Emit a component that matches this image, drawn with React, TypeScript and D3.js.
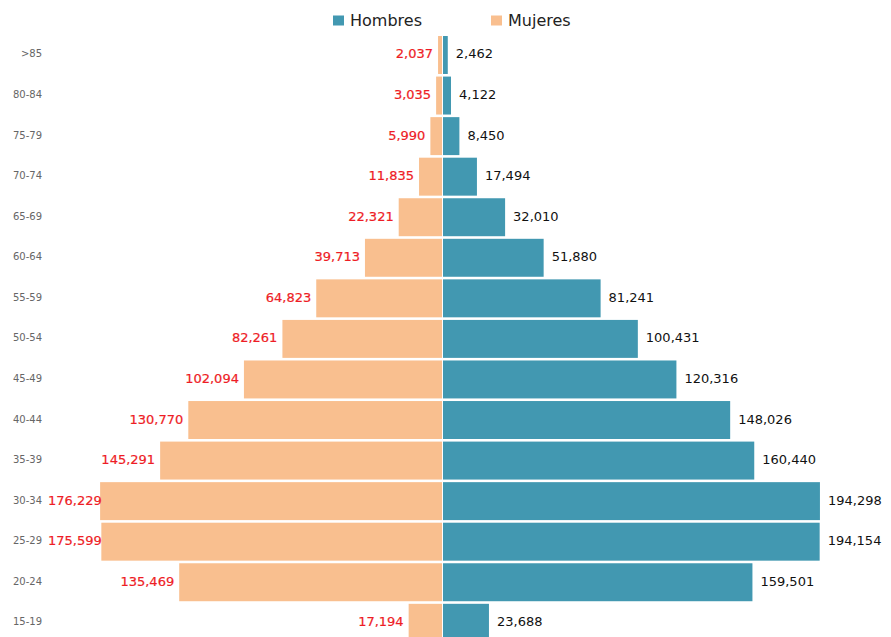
import * as d3 from "d3";

const ages = [">85", "80-84", "75-79", "70-74", "65-69", "60-64", "55-59", "50-54", "45-49", "40-44", "35-39", "30-34", "25-29", "20-24", "15-19"];
const hombres = [2462, 4122, 8450, 17494, 32010, 51880, 81241, 100431, 120316, 148026, 160440, 194298, 194154, 159501, 23688];
const mujeres = [2037, 3035, 5990, 11835, 22321, 39713, 64823, 82261, 102094, 130770, 145291, 176229, 175599, 135469, 17194];
const legendItems = ["Hombres", "Mujeres"];

const WIDTH = 891;
const HEIGHT = 637;
const MEN_COLOR = "#4298b1";
const WOMEN_COLOR = "#f9bf8f";
const FONT = "'DejaVu Sans', Verdana, sans-serif";
const VALUE_SIZE = 13;
const LABEL_MIN_X = 48;

// rough width of a formatted number in DejaVu Sans
const textWidth = (s: string) =>
  s.split("").reduce((w, c) => w + (c === "," ? 0.318 : 0.636) * VALUE_SIZE, 0);

export default function App() {
  const y = d3
    .scaleBand<string>()
    .domain(ages)
    .range([34.8, 643])
    .paddingInner(0.064)
    .paddingOuter(0.03);

  // same scale both sides, mirrored around the centre line
  const xMen = d3.scaleLinear().domain([0, 200000]).range([443, 831]);
  const xWomen = d3.scaleLinear().domain([0, 200000]).range([442, 54]);
  const fmt = d3.format(",");

  const legendColor = [MEN_COLOR, WOMEN_COLOR];
  const legendX = [333, 491];

  return (
    <svg
      width={WIDTH}
      height={HEIGHT}
      style={{ position: "absolute", left: 0, top: 0, background: "#fff" }}
      fontFamily={FONT}
    >
      {legendItems.map((name, i) => (
        <g key={name} transform={`translate(${legendX[i]},0)`}>
          <rect x={0} y={15.5} width={11} height={10} fill={legendColor[i]} />
          <text x={17} y={20.5} dominantBaseline="central" fontSize={16} fill="#222">
            {name}
          </text>
        </g>
      ))}

      {ages.map((age, i) => {
        const top = y(age) ?? 0;
        const bw = y.bandwidth();
        const cy = top + bw / 2;
        const wLabel = fmt(mujeres[i]);
        let wx = xWomen(mujeres[i]) - 5;
        // keep the label clear of the age axis on the widest rows
        if (wx - textWidth(wLabel) < LABEL_MIN_X) wx = LABEL_MIN_X + textWidth(wLabel);
        return (
          <g key={age}>
            <rect x={xWomen(mujeres[i])} y={top} width={xWomen(0) - xWomen(mujeres[i])} height={bw} fill={WOMEN_COLOR} />
            <rect x={xMen(0)} y={top} width={xMen(hombres[i]) - xMen(0)} height={bw} fill={MEN_COLOR} />
            <text x={42} y={cy - 1} dominantBaseline="central" textAnchor="end" fontSize={10} fill="#666">
              {age}
            </text>
            <text
              x={wx}
              y={cy - 1}
              dominantBaseline="central"
              textAnchor="end"
              fontSize={VALUE_SIZE}
              fill="#ee1c25"
              stroke="#ee1c25"
              strokeWidth={0.2}
            >
              {wLabel}
            </text>
            <text x={xMen(hombres[i]) + 8} y={cy - 1} dominantBaseline="central" fontSize={VALUE_SIZE} fill="#111">
              {fmt(hombres[i])}
            </text>
          </g>
        );
      })}
    </svg>
  );
}
